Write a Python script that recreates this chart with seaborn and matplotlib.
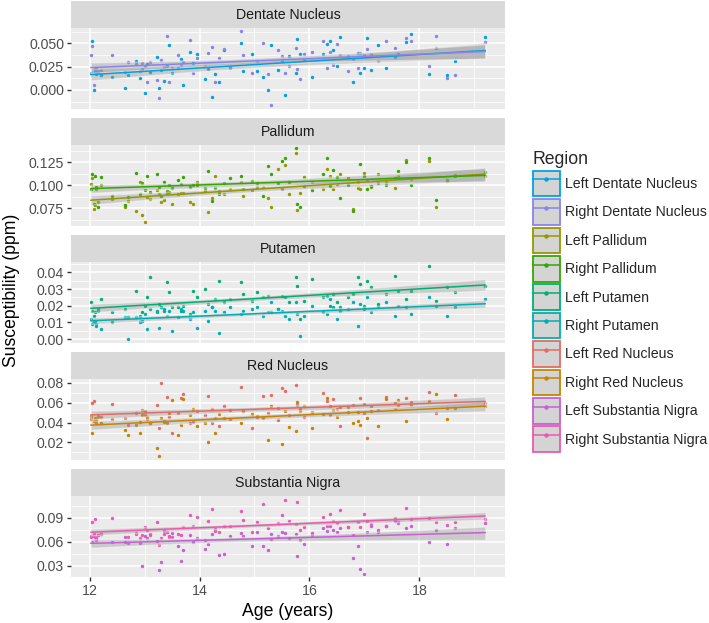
import numpy as np
import pandas as pd
import seaborn as sns
import matplotlib.pyplot as plt
from matplotlib.patches import Patch
from matplotlib.lines import Line2D
from matplotlib.legend_handler import HandlerTuple
from matplotlib.ticker import MultipleLocator, FormatStrFormatter

# subject ages (shared by every region)
ages = [12.02, 12.05, 12.08, 12.10, 12.12, 12.15, 12.20, 12.40, 12.65, 12.70,
        12.85, 12.92, 12.96, 13.00, 13.05, 13.10, 13.22, 13.26, 13.30, 13.35,
        13.40, 13.45, 13.50, 13.60, 13.66, 13.70, 13.82, 13.88, 13.95, 14.10,
        14.15, 14.22, 14.28, 14.35, 14.45, 14.55, 14.75, 14.80, 14.95, 15.05,
        15.15, 15.25, 15.30, 15.42, 15.50, 15.55, 15.62, 15.75, 15.78, 15.82,
        15.90, 16.05, 16.25, 16.32, 16.38, 16.42, 16.50, 16.55, 16.70, 16.80,
        16.88, 16.92, 17.00, 17.05, 17.12, 17.25, 17.40, 17.55, 17.62, 17.75,
        17.85, 18.18, 18.30, 18.50, 18.65, 19.20]

left_dentate = [0.018, 0.052, 0.000, 0.020, 0.017, 0.019, 0.016, 0.014, 0.002, 0.016,
                0.031, 0.013, 0.022, -0.003, 0.028, 0.019, 0.035, 0.002, 0.021, 0.010,
                0.026, 0.048, 0.018, 0.023, 0.033, 0.005, 0.041, 0.029, 0.039, 0.012,
                0.022, -0.008, 0.017, 0.009, 0.043, 0.025, 0.050, 0.020, 0.038, 0.020,
                0.014, 0.000, 0.048, 0.021, 0.031, -0.006, 0.036, 0.018, 0.055, 0.039,
                0.032, 0.014, 0.039, 0.049, 0.053, 0.043, 0.026, 0.057, 0.036, 0.008,
                0.040, 0.018, 0.024, 0.056, 0.021, 0.048, 0.024, 0.035, 0.039, 0.051,
                0.060, 0.017, 0.045, 0.016, 0.031, 0.057]
right_dentate = [0.037, 0.047, 0.005, 0.022, 0.024, 0.020, 0.021, 0.037, 0.019, 0.030,
                 0.028, 0.020, 0.029, 0.026, 0.008, 0.030, 0.011, -0.009, 0.032, 0.025,
                 0.058, 0.009, 0.024, 0.037, 0.027, 0.030, 0.054, 0.018, 0.034, 0.026,
                 0.040, 0.046, 0.008, 0.034, 0.044, 0.023, 0.063, 0.037, 0.018, 0.031,
                 0.050, 0.017, -0.016, 0.043, 0.036, 0.018, 0.026, 0.045, 0.022, 0.012,
                 0.038, 0.041, 0.052, 0.023, 0.041, 0.027, 0.049, 0.037, 0.020, 0.033,
                 0.024, 0.040, 0.037, 0.044, 0.039, 0.031, 0.052, 0.045, 0.038, 0.056,
                 0.053, 0.026, 0.058, 0.013, 0.016, 0.051]
left_pallidum = [0.101, 0.108, 0.074, 0.078, 0.096, 0.082, 0.100, 0.085, 0.076, 0.083,
                 0.072, 0.104, 0.068, 0.060, 0.087, 0.085, 0.095, 0.090, 0.082, 0.084,
                 0.092, 0.093, 0.080, 0.090, 0.092, 0.091, 0.082, 0.080, 0.104, 0.094,
                 0.071, 0.086, 0.110, 0.094, 0.090, 0.096, 0.104, 0.088, 0.095, 0.102,
                 0.098, 0.086, 0.076, 0.118, 0.096, 0.122, 0.090, 0.135, 0.073, 0.092,
                 0.109, 0.104, 0.096, 0.118, 0.110, 0.096, 0.101, 0.112, 0.108, 0.074,
                 0.097, 0.096, 0.113, 0.106, 0.098, 0.112, 0.103, 0.097, 0.110, 0.127,
                 0.107, 0.126, 0.076, 0.105, 0.111, 0.110]
right_pallidum = [0.096, 0.112, 0.080, 0.110, 0.098, 0.076, 0.109, 0.088, 0.078, 0.087,
                  0.113, 0.090, 0.102, 0.095, 0.110, 0.093, 0.112, 0.098, 0.088, 0.104,
                  0.094, 0.100, 0.097, 0.106, 0.101, 0.109, 0.098, 0.100, 0.100, 0.097,
                  0.115, 0.083, 0.097, 0.090, 0.102, 0.108, 0.110, 0.096, 0.105, 0.098,
                  0.088, 0.121, 0.112, 0.102, 0.126, 0.130, 0.104, 0.140, 0.080, 0.076,
                  0.099, 0.095, 0.112, 0.130, 0.099, 0.116, 0.109, 0.086, 0.100, 0.072,
                  0.104, 0.123, 0.110, 0.096, 0.099, 0.102, 0.100, 0.108, 0.115, 0.125,
                  0.100, 0.130, 0.084, 0.106, 0.110, 0.114]
left_putamen = [0.022, 0.017, 0.014, 0.016, 0.009, 0.018, 0.024, 0.010, 0.018, 0.013,
                0.029, 0.014, 0.016, 0.020, 0.025, 0.037, 0.017, 0.021, 0.019, 0.017,
                0.034, 0.028, 0.019, 0.019, 0.017, 0.020, 0.015, 0.029, 0.025, 0.030,
                0.021, 0.019, 0.024, 0.035, 0.022, 0.024, 0.034, 0.027, 0.023, 0.028,
                0.025, 0.026, 0.016, 0.018, 0.026, 0.025, 0.022, 0.037, 0.032, 0.012,
                0.023, 0.036, 0.025, 0.026, 0.020, 0.027, 0.022, 0.019, 0.025, 0.027,
                0.037, 0.033, 0.020, 0.035, 0.031, 0.021, 0.027, 0.038, 0.029, 0.024,
                0.029, 0.044, 0.023, 0.031, 0.028, 0.032]
right_putamen = [0.012, 0.009, 0.010, 0.011, 0.008, 0.017, 0.006, 0.016, 0.013, 0.000,
                 0.013, 0.010, 0.011, 0.015, 0.006, 0.018, 0.016, 0.007, 0.019, 0.018,
                 0.014, 0.017, 0.005, 0.013, 0.018, 0.017, 0.012, 0.016, 0.007, 0.017,
                 0.011, 0.019, 0.017, 0.004, 0.016, 0.019, 0.015, 0.017, 0.018, 0.019,
                 0.014, 0.016, 0.022, 0.018, 0.017, 0.014, 0.012, 0.022, 0.015, 0.002,
                 0.014, 0.020, 0.016, 0.015, 0.024, 0.019, 0.012, 0.017, 0.018, 0.022,
                 0.008, 0.021, 0.018, 0.025, 0.016, 0.020, 0.022, 0.014, 0.020, 0.019,
                 0.015, 0.025, 0.020, 0.014, 0.019, 0.024]
left_red = [0.044, 0.060, 0.062, 0.042, 0.040, 0.047, 0.046, 0.059, 0.045, 0.038,
            0.050, 0.041, 0.053, 0.048, 0.044, 0.040, 0.058, 0.035, 0.080, 0.042,
            0.066, 0.046, 0.030, 0.050, 0.065, 0.069, 0.040, 0.041, 0.052, 0.048,
            0.067, 0.040, 0.045, 0.037, 0.057, 0.044, 0.076, 0.052, 0.035, 0.046,
            0.067, 0.050, 0.068, 0.043, 0.075, 0.072, 0.048, 0.078, 0.058, 0.052,
            0.046, 0.051, 0.070, 0.062, 0.048, 0.064, 0.054, 0.037, 0.056, 0.058,
            0.051, 0.065, 0.050, 0.025, 0.057, 0.053, 0.066, 0.060, 0.058, 0.065,
            0.061, 0.071, 0.050, 0.055, 0.068, 0.060]
right_red = [0.047, 0.030, 0.042, 0.045, 0.043, 0.046, 0.040, 0.044, 0.033, 0.028,
             0.038, 0.030, 0.048, 0.052, 0.046, 0.040, 0.014, 0.006, 0.045, 0.041,
             0.040, 0.050, 0.063, 0.028, 0.038, 0.064, 0.048, 0.054, 0.037, 0.040,
             0.020, 0.054, 0.030, 0.049, 0.045, 0.053, 0.040, 0.052, 0.049, 0.047,
             0.045, 0.022, 0.057, 0.055, 0.018, 0.052, 0.036, 0.032, 0.061, 0.054,
             0.057, 0.035, 0.049, 0.065, 0.057, 0.053, 0.046, 0.056, 0.051, 0.040,
             0.042, 0.038, 0.059, 0.045, 0.052, 0.037, 0.064, 0.054, 0.063, 0.042,
             0.058, 0.062, 0.069, 0.044, 0.055, 0.057]
left_sn = [0.067, 0.060, 0.069, 0.066, 0.062, 0.068, 0.070, 0.060, 0.066, 0.058,
           0.071, 0.058, 0.030, 0.067, 0.064, 0.070, 0.061, 0.024, 0.034, 0.073,
           0.072, 0.066, 0.071, 0.055, 0.036, 0.049, 0.068, 0.060, 0.064, 0.051,
           0.057, 0.070, 0.073, 0.043, 0.045, 0.067, 0.071, 0.067, 0.054, 0.072,
           0.055, 0.050, 0.069, 0.067, 0.072, 0.071, 0.065, 0.070, 0.042, 0.062,
           0.057, 0.071, 0.077, 0.073, 0.080, 0.075, 0.072, 0.077, 0.078, 0.040,
           0.054, 0.026, 0.020, 0.072, 0.080, 0.075, 0.079, 0.086, 0.083, 0.077,
           0.080, 0.060, 0.074, 0.057, 0.077, 0.083]
right_sn = [0.066, 0.085, 0.067, 0.088, 0.064, 0.068, 0.069, 0.090, 0.060, 0.066,
            0.070, 0.064, 0.068, 0.078, 0.075, 0.068, 0.084, 0.056, 0.064, 0.070,
            0.072, 0.067, 0.066, 0.070, 0.068, 0.078, 0.093, 0.080, 0.091, 0.062,
            0.086, 0.101, 0.076, 0.072, 0.080, 0.080, 0.098, 0.087, 0.072, 0.085,
            0.107, 0.077, 0.063, 0.083, 0.093, 0.112, 0.086, 0.082, 0.109, 0.075,
            0.078, 0.068, 0.091, 0.080, 0.094, 0.086, 0.083, 0.100, 0.078, 0.068,
            0.085, 0.078, 0.094, 0.086, 0.082, 0.072, 0.079, 0.090, 0.084, 0.102,
            0.088, 0.089, 0.084, 0.081, 0.085, 0.088]

regions = ["Dentate Nucleus", "Pallidum", "Putamen", "Red Nucleus", "Substantia Nigra"]
series = {
    "Left Dentate Nucleus": left_dentate, "Right Dentate Nucleus": right_dentate,
    "Left Pallidum": left_pallidum, "Right Pallidum": right_pallidum,
    "Left Putamen": left_putamen, "Right Putamen": right_putamen,
    "Left Red Nucleus": left_red, "Right Red Nucleus": right_red,
    "Left Substantia Nigra": left_sn, "Right Substantia Nigra": right_sn,
}
colors = {
    "Left Dentate Nucleus": "#00A2E2", "Right Dentate Nucleus": "#8984EA",
    "Left Pallidum": "#969800", "Right Pallidum": "#34A700",
    "Left Putamen": "#00B073", "Right Putamen": "#00AFB4",
    "Left Red Nucleus": "#E46C64", "Right Red Nucleus": "#C78400",
    "Left Substantia Nigra": "#C660D4", "Right Substantia Nigra": "#EB5AAD",
}
ytick_step = {"Dentate Nucleus": 0.025, "Pallidum": 0.025, "Putamen": 0.01,
              "Red Nucleus": 0.02, "Substantia Nigra": 0.03}
ytick_fmt = {"Dentate Nucleus": "%.3f", "Pallidum": "%.3f", "Putamen": "%.2f",
             "Red Nucleus": "%.2f", "Substantia Nigra": "%.2f"}

# long table
rows = []
for label, vals in series.items():
    side, region = label.split(" ", 1)
    for a, v in zip(ages, vals):
        rows.append({"age": a, "value": v, "region": region, "label": label})
df = pd.DataFrame(rows)

sns.set_style("white")
plt.rcParams["font.family"] = ["Liberation Sans", "DejaVu Sans"]

W, H = 709, 623
fig = plt.figure(figsize=(W / 100, H / 100), dpi=100)

def box(x0, y0, x1, y1):
    return [x0 / W, 1 - y1 / H, (x1 - x0) / W, (y1 - y0) / H]

xmin, xmax = min(ages), max(ages)
xpad = 0.05 * (xmax - xmin)
left_px, right_px = 71, 505

for i, region in enumerate(regions):
    top = 0.5 + i * 117.2
    # strip
    sax = fig.add_axes(box(left_px, top, right_px, top + 27))
    sax.set_facecolor("#D9D9D9")
    sax.set_xticks([]); sax.set_yticks([])
    for s in sax.spines.values():
        s.set_visible(False)
    sax.text(0.5, 0.48, region, ha="center", va="center", fontsize=10.2, color="#1A1A1A")

    ax = fig.add_axes(box(left_px, top + 27, right_px, top + 108))
    ax.set_facecolor("#EBEBEB")
    sub = df[df.region == region]
    labels = [l for l in series if l.endswith(region)]

    for lab in labels:
        d = sub[sub.label == lab]
        sns.scatterplot(data=d, x="age", y="value", color=colors[lab], s=6,
                        linewidth=0, ax=ax, legend=False, zorder=2)
    for lab in labels:
        d = sub[sub.label == lab]
        sns.regplot(data=d, x="age", y="value", scatter=False, color=colors[lab],
                    ax=ax, seed=3, line_kws={"lw": 1.1, "zorder": 4})
        band = ax.collections[-1]
        band.set_facecolor("#999999")
        band.set_alpha(0.4)
        band.set_zorder(3)

    lo, hi = sub.value.min(), sub.value.max()
    ypad = 0.05 * (hi - lo)
    ax.set_ylim(lo - ypad, hi + ypad)
    ax.set_xlim(xmin - xpad, xmax + xpad)
    step = ytick_step[region]
    ax.yaxis.set_major_locator(MultipleLocator(step))
    ax.yaxis.set_minor_locator(MultipleLocator(step / 2))
    ax.yaxis.set_major_formatter(FormatStrFormatter(ytick_fmt[region]))
    ax.xaxis.set_major_locator(MultipleLocator(2))
    ax.xaxis.set_minor_locator(MultipleLocator(1))
    ax.grid(which="major", color="white", lw=1.1)
    ax.grid(which="minor", color="white", lw=0.55)
    ax.set_axisbelow(True)
    for s in ax.spines.values():
        s.set_visible(False)
    ax.set_xlabel(""); ax.set_ylabel("")
    ax.tick_params(axis="y", which="major", left=True, length=3, width=1, color="#333333",
                   labelsize=10.2, labelcolor="#4D4D4D", pad=2)
    ax.tick_params(which="minor", length=0)
    if i == len(regions) - 1:
        ax.tick_params(axis="x", which="major", bottom=True, length=3, width=1, color="#333333",
                       labelsize=10.2, labelcolor="#4D4D4D", pad=2)
    else:
        ax.tick_params(axis="x", which="major", bottom=False, labelbottom=False)

fig.text(12 / W, 1 - 290 / H, "Susceptibility (ppm)", rotation=90, ha="center", va="center",
         fontsize=12.7, color="black")
fig.text((left_px + right_px) / 2 / W, 1 - 612 / H, "Age (years)", ha="center", va="center",
         fontsize=12.7, color="black")

handles = []
for lab in series:
    handles.append((Patch(facecolor="#D4D4D4", edgecolor=colors[lab], lw=1.3),
                    Line2D([], [], color=colors[lab], lw=1.1, marker="o", markersize=2.2)))
fig.legend(handles, list(series.keys()), handler_map={tuple: HandlerTuple(ndivide=1)},
           loc="upper left", bbox_to_anchor=(533 / W, 1 - 151 / H), frameon=False,
           title="Region", title_fontsize=12.7, fontsize=10.2, alignment="left",
           handlelength=1.9, handleheight=2.4, labelspacing=0.2, handletextpad=0.35,
           borderpad=0, borderaxespad=0, numpoints=1)

fig.savefig("out.png", dpi=100)
